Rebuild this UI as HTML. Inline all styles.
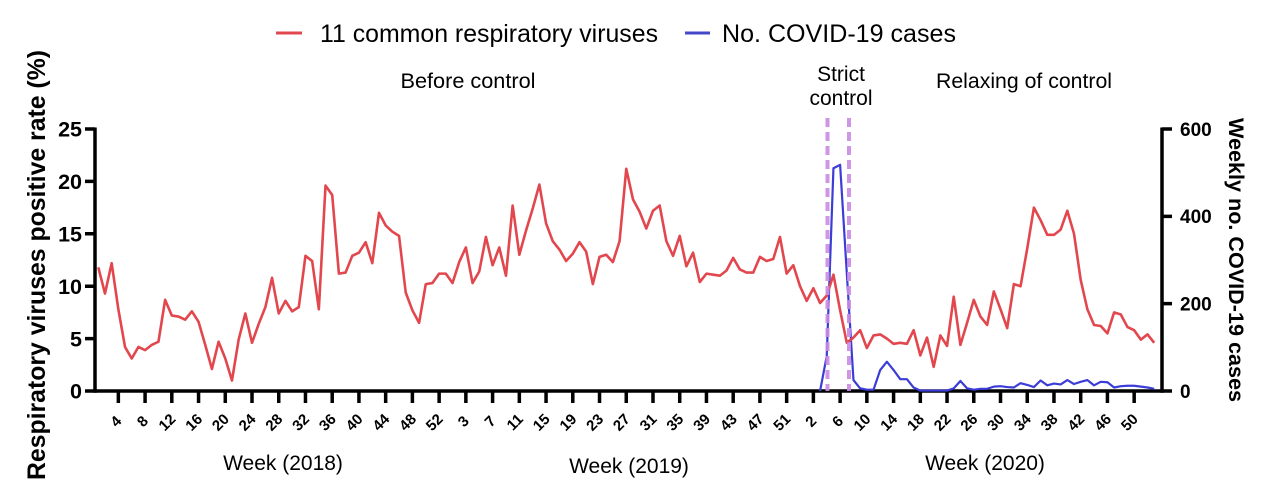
<!DOCTYPE html>
<html>
<head>
<meta charset="utf-8">
<style>
html,body{margin:0;padding:0;background:#fff;}
svg{display:block;}
text{font-family:"Liberation Sans",Arial,sans-serif;fill:#000;}
</style>
</head>
<body>
<svg width="1269" height="497" viewBox="0 0 1269 497" xmlns="http://www.w3.org/2000/svg">
<rect width="1269" height="497" fill="#fff"/>

<!-- Legend -->
<path d="M276 33H302" stroke="#E2474E" stroke-width="3"/>
<text x="320" y="42" font-size="25" textLength="338" lengthAdjust="spacingAndGlyphs">11 common respiratory viruses</text>
<path d="M685 33H710" stroke="#4646C8" stroke-width="3"/>
<text x="722" y="42" font-size="25" textLength="234" lengthAdjust="spacingAndGlyphs">No. COVID-19 cases</text>

<!-- Annotations -->
<text x="468" y="88" font-size="21" text-anchor="middle" textLength="135" lengthAdjust="spacingAndGlyphs">Before control</text>
<text x="841" y="81" font-size="21" text-anchor="middle">Strict</text>
<text x="841" y="105" font-size="21" text-anchor="middle">control</text>
<text x="1024" y="88" font-size="21" text-anchor="middle" textLength="176" lengthAdjust="spacingAndGlyphs">Relaxing of control</text>

<!-- Axes -->
<g stroke="#000" stroke-width="3.5" fill="none">
<path d="M95 127.5V392.75"/>
<path d="M1162 127.5V392.75"/>
<path d="M85 391H1172"/>
<path d="M85 338.6H95M85 286.2H95M85 233.8H95M85 181.4H95M85 129H95"/>
<path d="M1162 303.67H1172M1162 216.33H1172M1162 129H1172"/>
<path d="M118.35 391V403M145.08 391V403M171.81 391V403M198.55 391V403M225.28 391V403M252.01 391V403M278.74 391V403M305.47 391V403M332.21 391V403M358.94 391V403M385.67 391V403M412.4 391V403M439.13 391V403M465.87 391V403M492.6 391V403M519.33 391V403M546.06 391V403M572.79 391V403M599.53 391V403M626.26 391V403M652.99 391V403M679.72 391V403M706.45 391V403M733.19 391V403M759.92 391V403M786.65 391V403M813.38 391V403M840.11 391V403M866.85 391V403M893.58 391V403M920.31 391V403M947.04 391V403M973.77 391V403M1000.51 391V403M1027.24 391V403M1053.97 391V403M1080.7 391V403M1107.43 391V403M1134.17 391V403"/>
</g>

<!-- Left tick labels -->
<g font-size="21.5" font-weight="bold" text-anchor="end">
<text x="82" y="398.7">0</text>
<text x="82" y="346.3">5</text>
<text x="82" y="293.9">10</text>
<text x="82" y="241.5">15</text>
<text x="82" y="189.1">20</text>
<text x="82" y="136.7">25</text>
</g>
<!-- Right tick labels -->
<g font-size="19" font-weight="bold">
<text x="1180" y="397.8">0</text>
<text x="1180" y="310.5">200</text>
<text x="1180" y="223.1">400</text>
<text x="1180" y="135.8">600</text>
</g>

<!-- X tick labels -->
<g font-size="15" font-weight="bold" text-anchor="end">
<text transform="translate(122.35,422) rotate(-45)">4</text>
<text transform="translate(149.08,422) rotate(-45)">8</text>
<text transform="translate(176.51,420) rotate(-45)">12</text>
<text transform="translate(203.25,420) rotate(-45)">16</text>
<text transform="translate(229.98,420) rotate(-45)">20</text>
<text transform="translate(256.71,420) rotate(-45)">24</text>
<text transform="translate(283.44,420) rotate(-45)">28</text>
<text transform="translate(310.17,420) rotate(-45)">32</text>
<text transform="translate(336.91,420) rotate(-45)">36</text>
<text transform="translate(363.64,420) rotate(-45)">40</text>
<text transform="translate(390.37,420) rotate(-45)">44</text>
<text transform="translate(417.1,420) rotate(-45)">48</text>
<text transform="translate(443.83,420) rotate(-45)">52</text>
<text transform="translate(469.87,422) rotate(-45)">3</text>
<text transform="translate(496.6,422) rotate(-45)">7</text>
<text transform="translate(524.03,420) rotate(-45)">11</text>
<text transform="translate(550.76,420) rotate(-45)">15</text>
<text transform="translate(577.49,420) rotate(-45)">19</text>
<text transform="translate(604.23,420) rotate(-45)">23</text>
<text transform="translate(630.96,420) rotate(-45)">27</text>
<text transform="translate(657.69,420) rotate(-45)">31</text>
<text transform="translate(684.42,420) rotate(-45)">35</text>
<text transform="translate(711.15,420) rotate(-45)">39</text>
<text transform="translate(737.89,420) rotate(-45)">43</text>
<text transform="translate(764.62,420) rotate(-45)">47</text>
<text transform="translate(791.35,420) rotate(-45)">51</text>
<text transform="translate(817.38,422) rotate(-45)">2</text>
<text transform="translate(844.11,422) rotate(-45)">6</text>
<text transform="translate(871.55,420) rotate(-45)">10</text>
<text transform="translate(898.28,420) rotate(-45)">14</text>
<text transform="translate(925.01,420) rotate(-45)">18</text>
<text transform="translate(951.74,420) rotate(-45)">22</text>
<text transform="translate(978.47,420) rotate(-45)">26</text>
<text transform="translate(1005.21,420) rotate(-45)">30</text>
<text transform="translate(1031.94,420) rotate(-45)">34</text>
<text transform="translate(1058.67,420) rotate(-45)">38</text>
<text transform="translate(1085.4,420) rotate(-45)">42</text>
<text transform="translate(1112.13,420) rotate(-45)">46</text>
<text transform="translate(1138.87,420) rotate(-45)">50</text>
</g>

<!-- X axis year titles -->
<g font-size="21" text-anchor="middle">
<text x="283" y="470">Week (2018)</text>
<text x="629" y="473">Week (2019)</text>
<text x="985" y="470">Week (2020)</text>
</g>

<!-- Y axis titles -->
<text transform="translate(45,265) rotate(-90)" font-size="25" font-weight="bold" text-anchor="middle" textLength="430" lengthAdjust="spacingAndGlyphs">Respiratory viruses positive rate (%)</text>
<text transform="translate(1229,260) rotate(90)" font-size="21.5" font-weight="bold" text-anchor="middle" textLength="284" lengthAdjust="spacingAndGlyphs">Weekly no. COVID-19 cases</text>

<!-- Blue series: COVID-19 cases -->
<g transform="translate(98.3,391) scale(6.683,-0.4367)">
<polyline fill="none" stroke="#3C3CD6" stroke-width="2.2" stroke-linejoin="round" vector-effect="non-scaling-stroke"
points="108,0 109,80 110,510 111,518 112,270 113,25 114,6 115,3 116,3 117,48 118,67 119,48 120,27 121,27 122,8 123,1 124,1 125,1 126,1 127,1 128,6 129,23 130,6 131,3 132,5 133,5 134,10 135,11 136,9 137,8 138,18 139,14 140,9 141,24 142,13 143,17 144,15 145,25 146,16 147,21 148,25 149,13 150,21 151,20 152,8 153,11 154,12 155,12 156,10 157,8 158,5"/>
</g>

<!-- Red series: respiratory viruses positive rate -->
<g transform="translate(98.3,391) scale(6.683,-10.48)">
<polyline fill="none" stroke="#E2474E" stroke-width="2.6" stroke-linejoin="round" vector-effect="non-scaling-stroke"
points="0,11.8 1,9.3 2,12.2 3,7.8 4,4.2 5,3.1 6,4.2 7,3.9 8,4.4 9,4.7 10,8.7 11,7.2 12,7.1 13,6.8 14,7.6 15,6.6 16,4.4 17,2.1 18,4.7 19,3.1 20,1.0 21,4.9 22,7.4 23,4.6 24,6.4 25,8.0 26,10.8 27,7.4 28,8.6 29,7.6 30,8.0 31,12.9 32,12.4 33,7.8 34,19.6 35,18.7 36,11.2 37,11.3 38,12.9 39,13.2 40,14.2 41,12.2 42,17.0 43,15.8 44,15.2 45,14.8 46,9.4 47,7.7 48,6.5 49,10.2 50,10.3 51,11.2 52,11.2 53,10.3 54,12.3 55,13.7 56,10.3 57,11.4 58,14.7 59,12.0 60,13.7 61,11.0 62,17.7 63,13.0 64,15.3 65,17.4 66,19.7 67,16.0 68,14.3 69,13.5 70,12.4 71,13.1 72,14.2 73,13.3 74,10.2 75,12.8 76,13.0 77,12.3 78,14.3 79,21.2 80,18.3 81,17.1 82,15.5 83,17.2 84,17.7 85,14.3 86,12.9 87,14.8 88,11.9 89,13.2 90,10.4 91,11.2 92,11.1 93,11.0 94,11.5 95,12.7 96,11.6 97,11.3 98,11.3 99,12.8 100,12.4 101,12.6 102,14.7 103,11.2 104,12.0 105,10.0 106,8.6 107,9.8 108,8.4 109,9.1 110,11.1 111,7.7 112,4.6 113,5.1 114,5.8 115,4.1 116,5.3 117,5.4 118,5.0 119,4.5 120,4.6 121,4.5 122,5.8 123,3.4 124,5.1 125,2.3 126,5.3 127,4.3 128,9.0 129,4.4 130,6.5 131,8.7 132,7.1 133,6.3 134,9.5 135,7.8 136,6.0 137,10.2 138,10.0 139,13.6 140,17.5 141,16.3 142,14.9 143,14.9 144,15.4 145,17.2 146,15.0 147,10.6 148,7.8 149,6.3 150,6.2 151,5.5 152,7.5 153,7.3 154,6.1 155,5.8 156,4.9 157,5.4 158,4.6"/>
</g>

<!-- Purple dashed control boundaries -->
<g stroke="#C98BE3" stroke-width="4" stroke-dasharray="9 5" opacity="0.9">
<path d="M827.5 118V391"/>
<path d="M849 118V391"/>
</g>
</svg>
</body>
</html>
